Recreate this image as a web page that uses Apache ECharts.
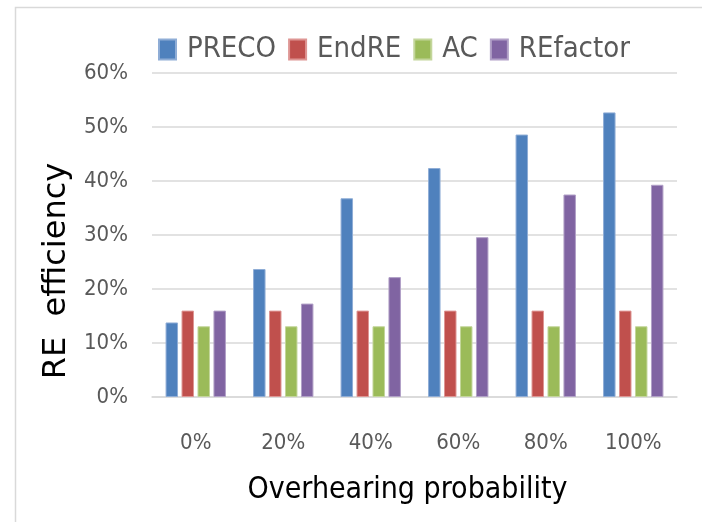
<!DOCTYPE html>
<html><head><meta charset="utf-8">
<script src="https://cdn.jsdelivr.net/npm/echarts@6/dist/echarts.min.js"></script>
<style>html,body{margin:0;padding:0;background:#fff}#c{width:702px;height:522px}</style>
</head><body><div id="c"></div>
<script>
var categories = ['0%', '20%', '40%', '60%', '80%', '100%'];
var seriesNames = ['PRECO', 'EndRE', 'AC', 'REfactor'];
var preco = [13.8, 23.7, 36.8, 42.4, 48.6, 52.7];
var endre = [16.0, 16.0, 16.0, 16.0, 16.0, 16.0];
var ac = [13.1, 13.1, 13.1, 13.1, 13.1, 13.1];
var refactor = [16.0, 17.3, 22.2, 29.6, 37.5, 39.3];
var yTicks = [0, 10, 20, 30, 40, 50, 60];

var colors = ['#4F81BD', '#C0504D', '#9BBB59', '#8064A2'];
var borders = ['#8FADD6', '#DE9694', '#C3D69B', '#B1A0C7'];
var dataSets = [preco, endre, ac, refactor];
var narrow = "'DejaVu Sans Condensed', sans-serif";

var chart = echarts.init(document.getElementById('c'), null, {renderer: 'canvas'});
chart.setOption({
  animation: false,
  backgroundColor: '#fff',
  color: colors,
  graphic: [{
    type: 'polyline', silent: true,
    shape: {points: [[15.5, 522], [15.5, 7.5], [702, 7.5]]},
    style: {stroke: '#D9D9D9', lineWidth: 1.5, fill: null}
  }],
  legend: {
    data: seriesNames,
    top: 30, left: 153,
    itemWidth: 17, itemHeight: 20, itemGap: 12,
    icon: 'rect',
    textStyle: {fontFamily: narrow, fontSize: 29, color: '#595959', padding: [0, 0, 0, 6]}
  },
  grid: {left: 152, right: 25, top: 73, bottom: 125, containLabel: false},
  xAxis: {
    type: 'category', data: categories,
    axisLine: {show: true, lineStyle: {color: '#D9D9D9', width: 1.5}},
    axisTick: {show: false},
    axisLabel: {fontFamily: narrow, fontSize: 22, color: '#595959', margin: 35},
    name: 'Overhearing probability', nameLocation: 'middle', nameGap: 78,
    nameTextStyle: {fontFamily: narrow, fontSize: 30, color: '#000', padding: [0, 14, 0, 0]}
  },
  yAxis: {
    type: 'value', min: yTicks[0], max: yTicks[yTicks.length - 1], interval: 10,
    axisLine: {show: false}, axisTick: {show: false},
    splitLine: {lineStyle: {color: '#D9D9D9', width: 1.5}},
    axisLabel: {fontFamily: narrow, fontSize: 22, color: '#595959', margin: 24,
      formatter: function (v) { return v + '%'; }},
    name: 'RE  efficiency', nameLocation: 'middle', nameGap: 77, nameRotate: 90,
    nameTextStyle: {fontFamily: "'DejaVu Sans', sans-serif", fontSize: 32, color: '#000', padding: [0, 72, 0, 0]}
  },
  series: dataSets.map(function (d, i) {
    return {
      name: seriesNames[i], type: 'bar', data: d,
      barGap: '28%', barCategoryGap: '31%',
      itemStyle: {color: colors[i], borderColor: borders[i], borderWidth: 1}
    };
  })
});
</script></body></html>
